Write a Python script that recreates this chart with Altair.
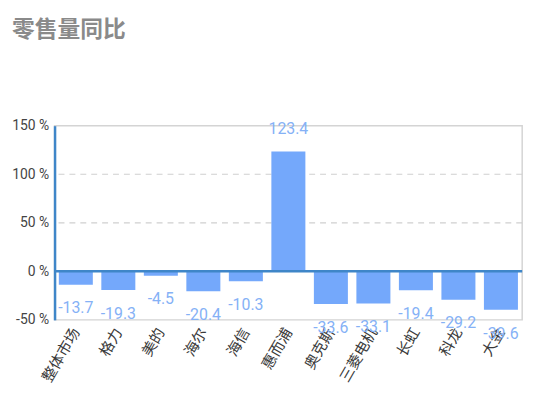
import altair as alt
import pandas as pd

brands = ["整体市场", "格力", "美的", "海尔", "海信", "惠而浦", "奥克斯", "三菱电机", "长虹", "科龙", "大金"]
values = [-13.7, -19.3, -4.5, -20.4, -10.3, 123.4, -33.6, -33.1, -19.4, -29.2, -39.6]
grid_vals = [50, 100]

df = pd.DataFrame({"brand": brands, "value": values})
grid_df = pd.DataFrame({"g": grid_vals})
zero_df = pd.DataFrame({"z": [0]})

FONT = "Noto Sans CJK SC"
BAR = "#74a8fb"
LBL = "#85b1f6"

x = alt.X("brand:N", sort=brands, title=None,
          scale=alt.Scale(paddingInner=0.2, paddingOuter=0.1),
          axis=alt.Axis(labelAngle=-60, labelAlign="right", labelBaseline="middle",
                        labelFontSize=15, labelColor="#3a3a3a", labelFont=FONT,
                        ticks=False, domain=False, labelPadding=9))
yscale = alt.Scale(domain=[-50, 150], nice=False, zero=False)

bars = alt.Chart(df).mark_bar(color=BAR).encode(
    x=x,
    y=alt.Y("value:Q", scale=yscale, title=None,
            axis=alt.Axis(values=[-50, 0, 50, 100, 150], labelExpr="toString(datum.value) + ' %'",
                          labelFontSize=14, labelColor="#444444", labelFont="Roboto",
                          ticks=False, grid=False, domainColor="#3f86c8", domainWidth=2.5,
                          labelPadding=6)),
)

grid = alt.Chart(grid_df).mark_rule(color="#d0d0d0", strokeDash=[6, 5], strokeWidth=1.2).encode(
    y=alt.Y("g:Q", scale=yscale)
)

zero = alt.Chart(zero_df).mark_rule(color="#3f86c8", strokeWidth=2.5).encode(
    y=alt.Y("z:Q", scale=yscale)
)

base_text = alt.Chart(df).transform_calculate(lbl="toString(datum.value)")

pos_text = base_text.transform_filter("datum.value >= 0").mark_text(
    color=LBL, fontSize=16, font="Roboto", baseline="middle", dy=-23
).encode(x=alt.X("brand:N", sort=brands), y=alt.Y("value:Q", scale=yscale), text="lbl:N")

neg_text = base_text.transform_filter("datum.value < 0").mark_text(
    color=LBL, fontSize=16, font="Roboto", baseline="middle", dy=24
).encode(x=alt.X("brand:N", sort=brands), y=alt.Y("value:Q", scale=yscale), text="lbl:N")

chart = alt.layer(grid, bars, zero, pos_text, neg_text).properties(
    width=472, height=196,
    autosize=alt.AutoSizeParams(type="none"),
    padding={"left": 47, "top": 117, "right": 20, "bottom": 70},
    title=alt.TitleParams("零售量同比", anchor="start", frame="group", fontSize=23, font=FONT,
                          fontWeight="bold", color="#8a8a8a", offset=78, dx=-43),
).configure_view(stroke="#d4d4d4", strokeWidth=1.5)

chart.save("out.html", embed_options={"renderer": "svg", "actions": False})
